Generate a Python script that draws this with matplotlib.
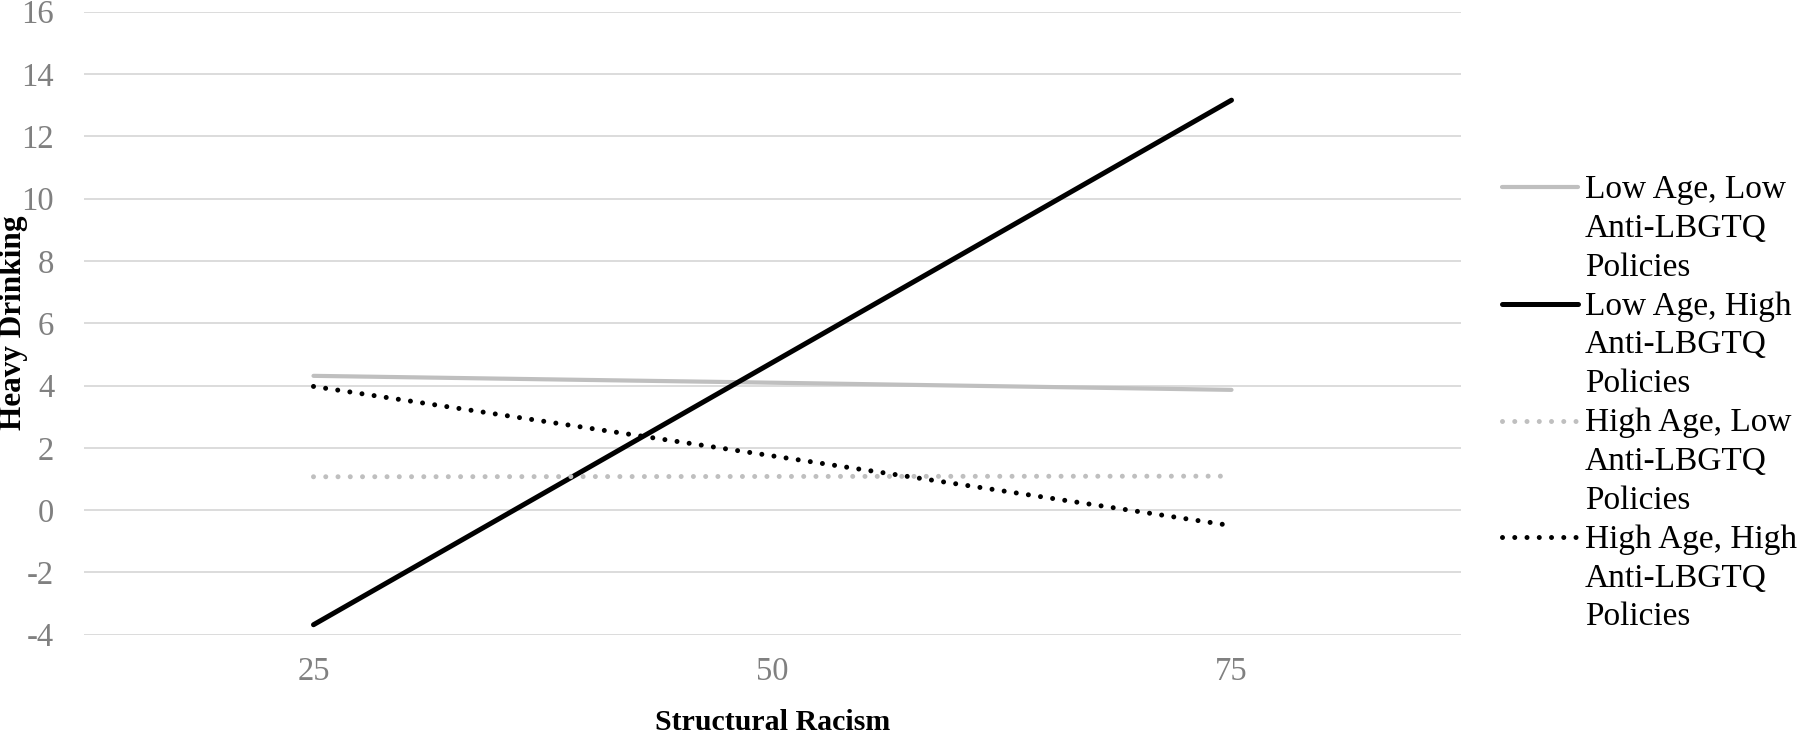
import matplotlib
matplotlib.use("Agg")
import matplotlib.pyplot as plt
from matplotlib.lines import Line2D

plt.rcParams["font.family"] = ["Liberation Serif", "DejaVu Serif"]
plt.rcParams["axes.unicode_minus"] = False

# ── data ─────────────────────────────────────────
x_labels = ["25", "50", "75"]
low_age_low_policy = [4.31, 4.09, 3.86]
low_age_high_policy = [-3.68, 4.74, 13.16]
high_age_low_policy = [1.07, 1.08, 1.09]
high_age_high_policy = [3.97, 1.74, -0.50]

series_names = [
    "Low Age, Low\nAnti-LBGTQ\nPolicies",
    "Low Age, High\nAnti-LBGTQ\nPolicies",
    "High Age, Low\nAnti-LBGTQ\nPolicies",
    "High Age, High\nAnti-LBGTQ\nPolicies",
]
y_ticks = list(range(-4, 17, 2))

# ── styles ───────────────────────────────────────
GRAY = "#BFBFBF"
dots = (0, (0.001, 2.45))
styles = [
    dict(color=GRAY, lw=3.0, ls="-", solid_capstyle="round"),
    dict(color="black", lw=3.6, ls="-", solid_capstyle="round"),
    dict(color=GRAY, lw=3.6, ls=dots, dash_capstyle="round"),
    dict(color="black", lw=3.6, ls=dots, dash_capstyle="round"),
]
all_series = [low_age_low_policy, low_age_high_policy,
              high_age_low_policy, high_age_high_policy]

W, H = 1800, 735
fig = plt.figure(figsize=(W / 100, H / 100), dpi=100)
ax = fig.add_axes([84 / W, 1 - 634.7 / H, 1377 / W, 623 / H])

xpos = list(range(len(x_labels)))
for vals, st in zip(all_series, styles):
    ax.plot(xpos, vals, **st, zorder=3)

ax.set_xlim(-0.5, len(x_labels) - 0.5)
ax.set_ylim(-4, 16)
ax.set_xticks(xpos)
ax.set_xticklabels(x_labels)
ax.set_yticks(y_ticks)
ax.grid(axis="y", color="#D9D9D9", lw=1.3, zorder=0)
ax.set_axisbelow(True)
for sp in ax.spines.values():
    sp.set_visible(False)
ax.tick_params(axis="both", length=0, labelsize=23.5, labelcolor="#808080")
ax.tick_params(axis="y", pad=21.5)
ax.tick_params(axis="x", pad=16)

ax.set_xlabel("Structural Racism", fontsize=21.5, fontweight="bold")
ax.xaxis.set_label_coords(0.5, -0.12)
ax.set_ylabel("Heavy Drinking", fontsize=22.5, fontweight="bold")
ax.yaxis.set_label_coords(-0.0405, 0.5)

# ── legend (handle next to first line of each label) ──
hx0, hx1, tx = 1502, 1578, 1585
y0, entry_step, line_step = 187.3, 116.6, 38.8
for i, (name, st) in enumerate(zip(series_names, styles)):
    yh = y0 + i * entry_step
    fig.add_artist(Line2D([hx0 / W, hx1 / W], [1 - yh / H, 1 - yh / H],
                          transform=fig.transFigure, **st))
    for j, line in enumerate(name.split("\n")):
        yb = yh + 10.7 + j * line_step
        fig.text(tx / W, 1 - yb / H, line, fontsize=24, va="baseline",
                 ha="left", color="black")

fig.savefig("out.png", dpi=100)
